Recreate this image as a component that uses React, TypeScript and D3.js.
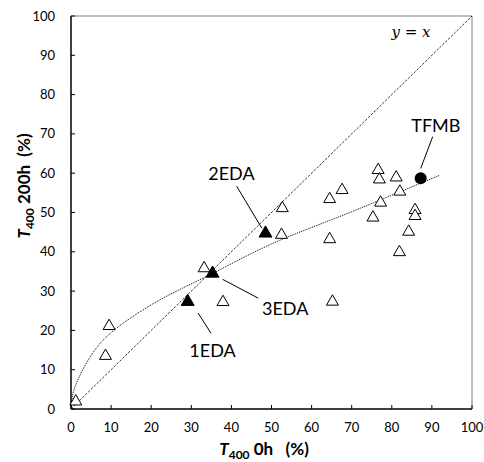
import React from "react";
import * as d3 from "d3";

const openX = [1.2, 8.6, 9.5, 33.2, 37.9, 52.7, 52.5, 64.5, 67.6, 64.5, 65.2, 76.6, 76.9, 81.1, 82.0, 77.2, 75.3, 85.8, 85.8, 84.2, 81.9];
const openY = [1.9, 13.5, 21.1, 35.8, 27.2, 51.1, 44.3, 53.4, 55.7, 43.2, 27.3, 60.8, 58.4, 58.9, 55.3, 52.5, 48.7, 50.6, 49.1, 45.1, 39.9];

const edaNames = ["1EDA", "2EDA", "3EDA"];
const edaX = [29.1, 48.5, 35.3];
const edaY = [27.3, 44.7, 34.5];

const tfmbX = 87.2;
const tfmbY = 58.7;

// trend curve
const trendX = [0, 0.5, 2.2, 5.6, 9.5, 20, 35.3, 50, 70, 92];
const trendY = [0, 4, 8.5, 14.5, 19, 26.5, 34.5, 42, 50.2, 59.5];

const ticks = [0, 10, 20, 30, 40, 50, 60, 70, 80, 90, 100];

const labels = [
  { text: "1EDA", x: 35.3, y: 13.2, lx1: 31.7, ly1: 24.4, lx2: 34.9, ly2: 19.3 },
  { text: "2EDA", x: 40.0, y: 58.3, lx1: 41.3, ly1: 56.7, lx2: 47.6, ly2: 46.0 },
  { text: "3EDA", x: 53.4, y: 23.9, lx1: 37.8, ly1: 33.0, lx2: 46.7, ly2: 28.2 },
  { text: "TFMB", x: 91.0, y: 70.6, lx1: 90.2, ly1: 69.3, lx2: 87.2, ly2: 61.2 },
];

export default function App() {
  const W = 484, H = 462;
  const x = d3.scaleLinear().domain([0, 100]).range([71, 472]);
  const y = d3.scaleLinear().domain([0, 100]).range([409, 16]);
  const font = "Lato, 'Open Sans', sans-serif";

  const tri = d3.symbol().type(d3.symbolTriangle).size(62)()!;
  const triBig = d3.symbol().type(d3.symbolTriangle).size(72)()!;

  const trendPts = trendX.map((v, i) => [v, trendY[i]] as [number, number]);
  const trendPath = d3.line<[number, number]>().x(d => x(d[0])).y(d => y(d[1])).curve(d3.curveCatmullRom.alpha(0.5))(trendPts)!;

  return (
    <svg width={W} height={H} style={{ position: "absolute", left: 0, top: 0 }}>
      <rect x={0} y={0} width={W} height={H} fill="#fff" />
      <line x1={x(0)} x2={x(100)} y1={y(100)} y2={y(100)} stroke="#7f7f7f" strokeWidth={1} />
      <line x1={x(100)} x2={x(100)} y1={y(100)} y2={y(0)} stroke="#7f7f7f" strokeWidth={1} />
      <line x1={x(0)} y1={y(0)} x2={x(100)} y2={y(100)} stroke="#000" strokeWidth={0.8} strokeDasharray="2.5,1.5" />
      <path d={trendPath} fill="none" stroke="#000" strokeWidth={1} strokeDasharray="1,1" />
      <line x1={x(0)} x2={x(100)} y1={y(0)} y2={y(0)} stroke="#000" strokeWidth={1.5} />
      <line x1={x(0)} x2={x(0)} y1={y(0)} y2={y(100)} stroke="#000" strokeWidth={1.5} />
      {ticks.map(t => (
        <g key={"x" + t}>
          <line x1={x(t)} x2={x(t)} y1={y(0)} y2={y(0) - 4} stroke="#000" strokeWidth={1} />
          <text x={x(t)} y={y(0) + 23} textAnchor="middle" fontFamily={font} fontSize={13} fill="#000">{t}</text>
        </g>
      ))}
      {ticks.map(t => (
        <g key={"y" + t}>
          <line x1={x(0)} x2={x(0) + 4} y1={y(t)} y2={y(t)} stroke="#000" strokeWidth={1} />
          <text x={55} y={y(t) + 4.5} textAnchor="end" fontFamily={font} fontSize={13} fill="#000">{t}</text>
        </g>
      ))}
      {openX.map((v, i) => (
        <path key={"o" + i} d={tri} transform={`translate(${x(v)},${y(openY[i])})`} fill="#fff" stroke="#000" strokeWidth={1} />
      ))}
      {edaX.map((v, i) => (
        <path key={"e" + i} d={triBig} transform={`translate(${x(v)},${y(edaY[i])})`} fill="#000" stroke="#000" strokeWidth={1}>
          <title>{edaNames[i]}</title>
        </path>
      ))}
      <circle cx={x(tfmbX)} cy={y(tfmbY)} r={6} fill="#000" />
      {labels.map(l => (
        <g key={l.text}>
          <line x1={x(l.lx1)} y1={y(l.ly1)} x2={x(l.lx2)} y2={y(l.ly2)} stroke="#000" strokeWidth={1} />
          <text x={x(l.x)} y={y(l.y)} textAnchor="middle" fontFamily={font} fontSize={18} fill="#000">{l.text}</text>
        </g>
      ))}
      <text x={411} y={37} textAnchor="middle" fontFamily="'DejaVu Serif', serif" fontStyle="italic" fontSize={15} fill="#000">y = x</text>
      <text x={264} y={455} textAnchor="middle" fontFamily={font} fontWeight="bold" fontSize={17} fill="#000">
        <tspan fontStyle="italic">T</tspan>
        <tspan fontSize={12} dy={4}>400</tspan>
        <tspan dy={-4} xmlSpace="preserve"> 0h   (%)</tspan>
      </text>
      <text transform={`translate(30,186) rotate(-90)`} textAnchor="middle" fontFamily={font} fontWeight="bold" fontSize={17} fill="#000">
        <tspan fontStyle="italic">T</tspan>
        <tspan fontSize={12} dy={4}>400</tspan>
        <tspan dy={-4} xmlSpace="preserve"> 200h  (%)</tspan>
      </text>
    </svg>
  );
}
